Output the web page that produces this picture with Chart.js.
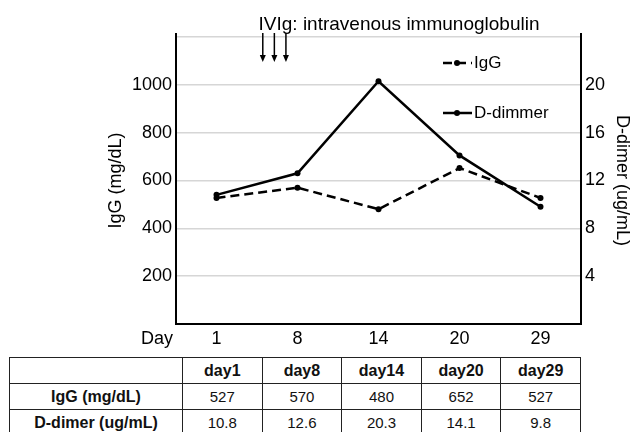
<!DOCTYPE html>
<html>
<head>
<meta charset="utf-8">
<script src="https://cdn.jsdelivr.net/npm/chart.js@4"></script>
<style>
  body { margin: 0; background: #fff; font-family: "Liberation Sans", Arial, sans-serif; }
  #wrap { position: relative; width: 630px; height: 432px; overflow: hidden; }
  #chart { position: absolute; left: 0; top: 0; }
  #tbl { position: absolute; left: 9px; top: 357px; width: 572px; border-collapse: collapse; table-layout: fixed; color: #111; background: #fff; }
  #tbl td, #tbl th { border: 1.5px solid #222; text-align: center; padding: 0; font-size: 15px; }
  #tbl th { font-weight: bold; font-size: 16px; }
  #tbl td.lbl { font-weight: bold; font-size: 16px; }
  #tbl tr { height: 26px; }
</style>
</head>
<body>
<div id="wrap">
  <canvas id="chart" width="630" height="360"></canvas>
  <table id="tbl"></table>
</div>
<script>
// données
const days = [1, 8, 14, 20, 29];
const iggValues = [527, 570, 480, 652, 527];
const dDimerValues = [10.8, 12.6, 20.3, 14.1, 9.8];
const ivigDays = [5, 6, 7]; // flèches IVIg
const iggLabel = 'IgG (mg/dL)';
const dDimerLabel = 'D-dimer (ug/mL)';

const FONT = '"Liberation Sans", Arial, sans-serif';

// tableau sous le graphe
const tbl = document.getElementById('tbl');
let html = '<colgroup><col style="width:173px">' + days.map(() => '<col>').join('') + '</colgroup>';
html += '<tr><th></th>' + days.map(d => '<th>day' + d + '</th>').join('') + '</tr>';
html += '<tr><td class="lbl">' + iggLabel + '</td>' + iggValues.map(v => '<td>' + v + '</td>').join('') + '</tr>';
html += '<tr><td class="lbl">' + dDimerLabel + '</td>' + dDimerValues.map(v => '<td>' + v.toFixed(1) + '</td>').join('') + '</tr>';
tbl.innerHTML = html;

// annotations : titre, flèches, légende, titres d'axes
const decor = {
  id: 'decor',
  afterDraw(chart) {
    const ctx = chart.ctx;
    const a = chart.chartArea;
    const xs = chart.scales.x;
    ctx.save();
    ctx.fillStyle = '#000';
    ctx.strokeStyle = '#000';

    // axes verticaux (dépassent un peu en haut)
    ctx.lineWidth = 2;
    ctx.beginPath();
    ctx.moveTo(a.left, a.top - 4); ctx.lineTo(a.left, a.bottom);
    ctx.moveTo(a.right, a.top - 4); ctx.lineTo(a.right, a.bottom);
    ctx.stroke();

    // titre
    ctx.font = '19px ' + FONT;
    ctx.textAlign = 'center';
    ctx.textBaseline = 'alphabetic';
    ctx.fillText('IVIg: intravenous immunoglobulin', 399, 30);

    // flèches aux jours d'IVIg
    ivigDays.forEach(d => {
      let i = 0;
      while (i < days.length - 2 && d > days[i + 1]) i++;
      const p0 = xs.getPixelForValue(i), p1 = xs.getPixelForValue(i + 1);
      const x = p0 + (d - days[i]) / (days[i + 1] - days[i]) * (p1 - p0);
      const y0 = a.top - 4, y1 = 62;
      ctx.lineWidth = 1.5;
      ctx.beginPath(); ctx.moveTo(x, y0); ctx.lineTo(x, y1 - 5); ctx.stroke();
      ctx.beginPath(); ctx.moveTo(x - 3, y1 - 7); ctx.lineTo(x + 3, y1 - 7); ctx.lineTo(x, y1); ctx.closePath(); ctx.fill();
    });

    // légende
    ctx.font = '17px ' + FONT;
    ctx.textAlign = 'left';
    ctx.textBaseline = 'middle';
    chart.data.datasets.forEach((ds, k) => {
      const y = a.top + 26 + k * 50;
      const lx = a.right - 138;
      ctx.lineWidth = 2.5;
      ctx.setLineDash(ds.borderDash || []);
      ctx.beginPath(); ctx.moveTo(lx, y); ctx.lineTo(lx + 29, y); ctx.stroke();
      ctx.setLineDash([]);
      ctx.beginPath(); ctx.arc(lx + 14, y, 3, 0, Math.PI * 2); ctx.fill();
      ctx.fillText(ds.legendText, lx + 31, y);
    });

    // titres d'axes
    ctx.font = '18px ' + FONT;
    ctx.textAlign = 'center';
    ctx.save();
    ctx.translate(116, (a.top + a.bottom) / 2);
    ctx.rotate(-Math.PI / 2);
    ctx.fillText(iggLabel, 0, 0);
    ctx.restore();
    ctx.save();
    ctx.translate(622, (a.top + a.bottom) / 2);
    ctx.rotate(Math.PI / 2);
    ctx.fillText(dDimerLabel, 0, 0);
    ctx.restore();

    // "Day"
    ctx.textAlign = 'right';
    ctx.fillText('Day', 173, 339);
    ctx.restore();
  }
};

new Chart(document.getElementById('chart').getContext('2d'), {
  type: 'line',
  data: {
    labels: days.map(String),
    datasets: [
      {
        legendText: 'IgG',
        data: iggValues,
        yAxisID: 'y',
        borderColor: '#000',
        backgroundColor: '#000',
        borderWidth: 2.5,
        borderDash: [9, 5],
        pointRadius: 3,
        pointBorderWidth: 0,
        tension: 0
      },
      {
        legendText: 'D-dimmer',
        data: dDimerValues,
        yAxisID: 'y2',
        borderColor: '#000',
        backgroundColor: '#000',
        borderWidth: 2.5,
        pointRadius: 3,
        pointBorderWidth: 0,
        tension: 0
      }
    ]
  },
  options: {
    responsive: false,
    animation: false,
    layout: { padding: { top: 37, left: 0, right: 0, bottom: 0 } },
    plugins: { legend: { display: false }, tooltip: { enabled: false } },
    scales: {
      x: {
        offset: true,
        grid: { display: false },
        border: { display: true, color: '#000', width: 2 },
        ticks: { color: '#000', font: { family: FONT, size: 18 }, padding: -4 },
        afterFit: s => { s.height = 36; }
      },
      y: {
        position: 'left',
        min: 0, max: 1200,
        grid: { color: c => c.tick.value === 0 ? 'rgba(0,0,0,0)' : '#d6d6d6', lineWidth: 1.5, drawTicks: false },
        border: { display: false },
        ticks: {
          stepSize: 200, padding: 4, color: '#000',
          font: { family: FONT, size: 18 },
          callback: v => (v === 0 || v === 1200) ? '' : v
        },
        afterFit: s => { s.width = 176; }
      },
      y2: {
        position: 'right',
        min: 0, max: 24,
        grid: { display: false, drawTicks: false },
        border: { display: false },
        ticks: {
          stepSize: 4, padding: 4, color: '#000',
          font: { family: FONT, size: 18 },
          callback: v => (v === 0 || v === 24) ? '' : v
        },
        afterFit: s => { s.width = 49; }
      }
    }
  },
  plugins: [decor]
});
</script>
</body>
</html>
